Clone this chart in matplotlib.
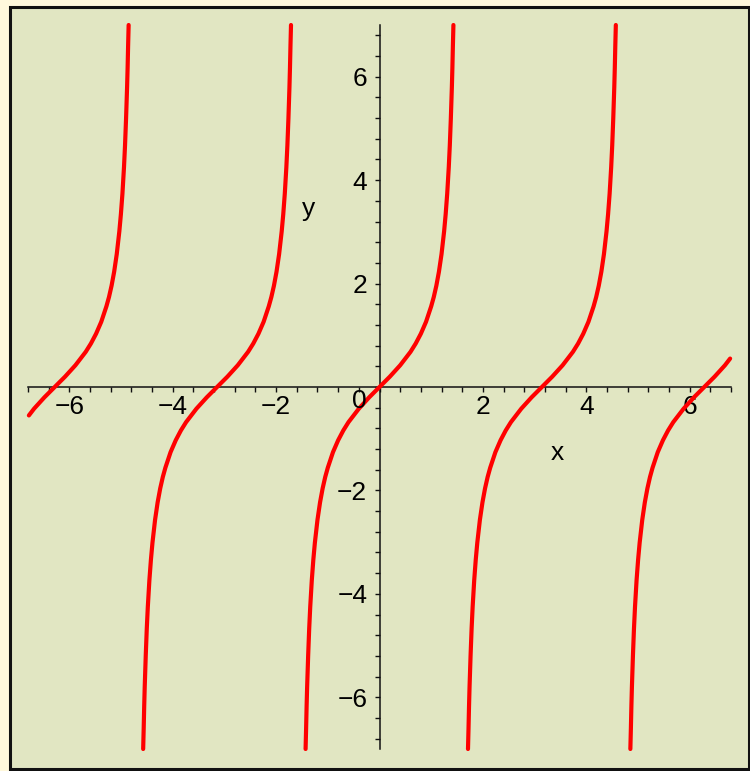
import numpy as np
import matplotlib
matplotlib.use("Agg")
import matplotlib.pyplot as plt
from matplotlib.patches import Rectangle

# x-offset from each branch centre and the curve height there (right half of a branch)
branch_dx = [0.0, 0.1, 0.2, 0.3, 0.4, 0.5, 0.6, 0.7, 0.8, 0.9, 1.0, 1.05, 1.1,
             1.15, 1.2, 1.25, 1.28, 1.31, 1.34, 1.36, 1.38, 1.40, 1.41, 1.42, 1.43]
branch_y = [0.0, 0.10, 0.20, 0.31, 0.42, 0.55, 0.68, 0.84, 1.03, 1.26, 1.56, 1.74, 1.96,
            2.23, 2.57, 3.01, 3.34, 3.74, 4.25, 4.67, 5.19, 5.80, 6.17, 6.61, 7.0]
# zero crossings of the branches
branch_centres = [-6.283, -3.142, 0.0, 3.142, 6.283]

x_range = (-6.8, 6.8)
y_range = (-7.0, 7.0)
tick_values = [-6, -4, -2, 2, 4, 6]
tick_labels = ["\u22126", "\u22124", "\u22122", "2", "4", "6"]

plt.rcParams["font.family"] = ["Liberation Sans", "DejaVu Sans"]
FS = 19
W, H = 750, 771

fig = plt.figure(figsize=(W / 100, H / 100), dpi=100, facecolor="#FFF8DC")

# panel background with dark frame (pixel box: left 9.5, top 6.5, right 749, bottom 768.5)
panel = Rectangle((9.5 / W, (H - 768.5) / H), (749 - 9.5) / W, (768.5 - 6.5) / H,
                  transform=fig.transFigure, facecolor="#E1E6C2",
                  edgecolor="#111111", linewidth=2.2, zorder=-10)
fig.add_artist(panel)

ax = fig.add_axes([28 / W, 22 / H, 703 / W, 724 / H])
ax.set_zorder(1)
ax.set_facecolor("none")
ax.set_xlim(*x_range)
ax.set_ylim(*y_range)

dx = np.array(branch_dx)
yy = np.array(branch_y)
half_x = np.concatenate([-dx[::-1], dx[1:]])
half_y = np.concatenate([-yy[::-1], yy[1:]])
for c in branch_centres:
    xs = c + half_x
    keep = (xs >= x_range[0] - 1e-9) & (xs <= x_range[1] + 1e-9)
    ax.plot(xs[keep], half_y[keep], color="#FF0000", lw=3.0,
            solid_capstyle="round", clip_on=False, zorder=3)

for side in ("top", "right"):
    ax.spines[side].set_visible(False)
for side in ("left", "bottom"):
    ax.spines[side].set_position(("data", 0))
    ax.spines[side].set_linewidth(1.1)
    ax.spines[side].set_color("#111111")

ax.set_xticks(tick_values)
ax.set_xticklabels(tick_labels)
ax.set_yticks(tick_values)
ax.set_yticklabels(tick_labels)
ax.set_xticks(np.arange(-17, 18) * 0.4, minor=True)
ax.set_yticks(np.arange(-17, 18) * 0.4, minor=True)
ax.tick_params(axis="both", which="both", direction="out", length=3.8,
               width=1.0, color="#111111", labelsize=FS)
ax.tick_params(axis="x", which="major", pad=2)
ax.tick_params(axis="y", which="major", pad=5)

ax.annotate("0", xy=(0, 0), xytext=(-9.5, -10), textcoords="offset points",
            ha="right", va="center", fontsize=FS)
ax.text(3.44, -1.28, "x", ha="center", va="center", fontsize=FS)
ax.text(-1.38, 3.44, "y", ha="center", va="center", fontsize=FS)

fig.savefig("out.png", dpi=100, facecolor=fig.get_facecolor())
